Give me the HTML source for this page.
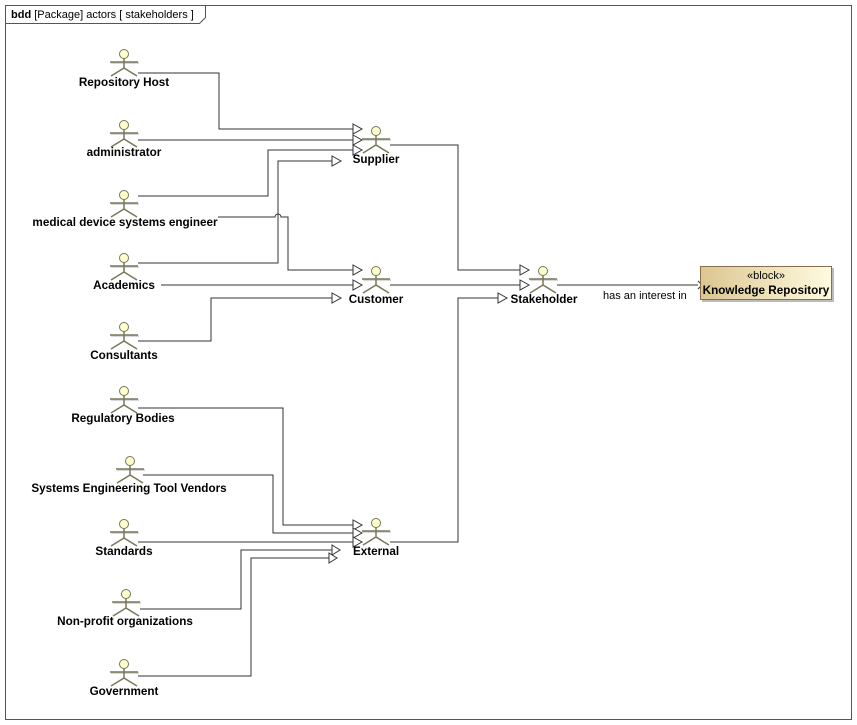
<!DOCTYPE html>
<html><head><meta charset="utf-8"><style>
html,body{margin:0;padding:0;background:#fff;}
svg{display:block;font-family:"Liberation Sans",sans-serif;}
.l{fill:none;stroke:#333;stroke-width:1}
.t{font-size:11.7px;font-weight:bold;fill:#000;text-anchor:middle}
</style></head><body>
<svg width="857" height="725" viewBox="0 0 857 725">
<defs>
<g id="act">
 <line x1="-13" y1="14" x2="15" y2="14" stroke="#ccc" stroke-width="1.5"/>
 <line x1="-14" y1="13" x2="14" y2="13" stroke="#77775a" stroke-width="1.5"/>
 <line x1="0" y1="9.5" x2="0" y2="19" stroke="#77775a" stroke-width="1.5"/>
 <line x1="0" y1="19" x2="-13" y2="27" stroke="#77775a" stroke-width="1.5"/>
 <line x1="0" y1="19" x2="13" y2="27" stroke="#77775a" stroke-width="1.5"/>
 <circle cx="0" cy="5" r="4.5" fill="#ffffcc" stroke="#77775a" stroke-width="1"/>
</g>
<linearGradient id="bg" x1="0" x2="1" y1="0" y2="0"><stop offset="0" stop-color="#dcc690"/><stop offset="1" stop-color="#fffbe0"/></linearGradient>
</defs>
<rect x="5.5" y="5.5" width="846" height="714" fill="#fff" stroke="#555"/>
<path d="M5.5 23.5 H199.5 L205.5 17.5 V5.5" fill="none" stroke="#555"/>
<text x="11" y="18" font-size="11"><tspan font-weight="bold">bdd</tspan> [Package] actors [ stakeholders ]</text>

<g class="l">
<polyline points="138,73 219,73 219,129 360,129"/>
<polyline points="138,140 360,140"/>
<polyline points="138,196 268,196 268,150 360,150"/>
<polyline points="138,263 278,263 278,161 332,161"/>
<path d="M218,217 H275 A3,3 0 0 1 281,217 H288 V270 H360"/>
<polyline points="161,285 360,285"/>
<polyline points="138,341 211,341 211,298 332,298"/>
<polyline points="390,145 458,145 458,270 527,270"/>
<polyline points="390,285 527,285"/>
<polyline points="390,542 458,542 458,298 498,298"/>
<polyline points="557,285 698,285"/>
<polyline points="698,281 702,285 698,289"/>
<polyline points="138,408 283,408 283,525 360,525"/>
<polyline points="143,475 273,475 273,533 360,533"/>
<polyline points="138,542 360,542"/>
<polyline points="140,609 241,609 241,550 332,550"/>
<polyline points="138,676 251,676 251,558 329,558"/>
</g>
<g fill="#fff" stroke="#333">
<path d="M353,124 L362,129 L353,134 Z"/>
<path d="M353,135 L362,140 L353,145 Z"/>
<path d="M353,145 L362,150 L353,155 Z"/>
<path d="M332,156 L341,161 L332,166 Z"/>
<path d="M353,265 L362,270 L353,275 Z"/>
<path d="M353,280 L362,285 L353,290 Z"/>
<path d="M332,293 L341,298 L332,303 Z"/>
<path d="M520,265 L529,270 L520,275 Z"/>
<path d="M520,280 L529,285 L520,290 Z"/>
<path d="M498,293 L507,298 L498,303 Z"/>
<path d="M353,520 L362,525 L353,530 Z"/>
<path d="M353,528 L362,533 L353,538 Z"/>
<path d="M353,537 L362,542 L353,547 Z"/>
<path d="M332,545 L340,550 L332,555 Z"/>
<path d="M329,553 L337,558 L329,563 Z"/>
</g>

<use href="#act" x="124" y="49"/><text class="t" x="124" y="86">Repository Host</text>
<use href="#act" x="124" y="120"/><text class="t" x="124" y="156">administrator</text>
<use href="#act" x="124" y="190"/><text class="t" x="125" y="226">medical device systems engineer</text>
<use href="#act" x="124" y="253"/><text class="t" x="124" y="289">Academics</text>
<use href="#act" x="124" y="322"/><text class="t" x="124" y="359">Consultants</text>
<use href="#act" x="124" y="386"/><text class="t" x="123" y="422">Regulatory Bodies</text>
<use href="#act" x="130" y="456"/><text class="t" x="129" y="492">Systems Engineering Tool Vendors</text>
<use href="#act" x="124" y="519"/><text class="t" x="124" y="555">Standards</text>
<use href="#act" x="126" y="589"/><text class="t" x="125" y="625">Non-profit organizations</text>
<use href="#act" x="124" y="659"/><text class="t" x="124" y="695">Government</text>
<use href="#act" x="376" y="126"/><text class="t" x="376" y="163">Supplier</text>
<use href="#act" x="376" y="266"/><text class="t" x="376" y="303">Customer</text>
<use href="#act" x="543" y="266"/><text class="t" x="544" y="303">Stakeholder</text>
<use href="#act" x="376" y="518"/><text class="t" x="376" y="555">External</text>

<text x="603" y="299" font-size="11" fill="#000">has an interest in</text>

<rect x="702" y="268" width="132" height="34" fill="#bbb"/>
<rect x="700.5" y="266.5" width="131" height="33" fill="url(#bg)" stroke="#8b6e4e"/>
<text x="766" y="279" font-size="11" text-anchor="middle">«block»</text>
<text class="t" x="766" y="294">Knowledge Repository</text>
</svg>
</body></html>
